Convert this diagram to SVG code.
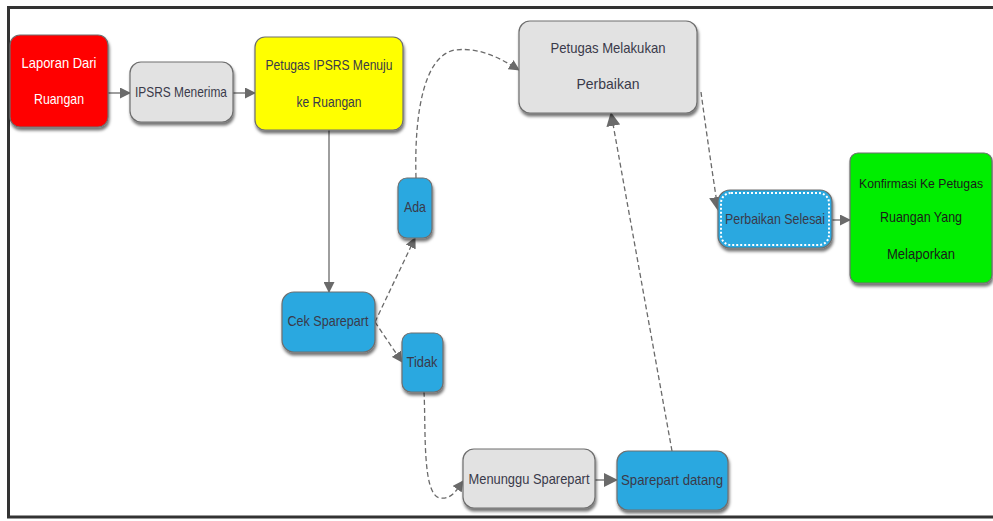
<svg xmlns="http://www.w3.org/2000/svg" width="993" height="521" viewBox="0 0 993 521">
<defs>
<filter id="sh" x="-20%" y="-20%" width="140%" height="150%">
<feDropShadow dx="1" dy="3" stdDeviation="1.5" flood-color="#000" flood-opacity="0.55"/>
</filter>
<marker id="ah" markerWidth="11" markerHeight="11" refX="10" refY="5.5" orient="auto" markerUnits="userSpaceOnUse">
<path d="M0,0 L11,5.5 L0,11 Z" fill="#6a6a6a"/>
</marker>
<marker id="ahb" markerWidth="14" markerHeight="14" refX="13" refY="7" orient="auto" markerUnits="userSpaceOnUse">
<path d="M0,0 L14,7 L0,14 Z" fill="#6a6a6a"/>
</marker>
</defs>
<style>
.n{stroke:#6e6e6e;stroke-width:1.2;filter:url(#sh)}
.gray{fill:#e2e2e2}
.blue{fill:#29a8e0}
.t{font-family:"Liberation Sans",Arial,sans-serif;font-size:14.5px;text-anchor:middle;fill:#3a3a4a}
.w{fill:#ffffff}
.k{fill:#1a1a1a}
.sm{font-size:13px}
.c{fill:none;stroke:#6a6a6a;stroke-width:1.3}
.d{stroke-dasharray:5,3}
</style>
<rect x="0" y="0" width="993" height="521" fill="#ffffff"/>
<g id="frame" fill="none" stroke="#333" stroke-width="3">
<path d="M993,7.5 L8.5,7.5 L8.5,517 L993,517"/>
</g>
<g id="connectors">
<line class="c" x1="108" y1="93" x2="130" y2="93" marker-end="url(#ah)"/>
<line class="c" x1="233" y1="93" x2="255" y2="93" marker-end="url(#ah)"/>
<line class="c" x1="329" y1="130" x2="329" y2="292" marker-end="url(#ah)"/>
<line class="c d" x1="375" y1="322" x2="415" y2="238" marker-end="url(#ah)"/>
<line class="c d" x1="375" y1="322" x2="402" y2="362" marker-end="url(#ah)"/>
<path class="c d" d="M416,178 C414,110 425,55 455,50 C480,47 500,58 519,70" marker-end="url(#ah)"/>
<path class="c d" d="M424,392 C426,430 422,495 440,498 C452,500 458,488 463,481" marker-end="url(#ah)"/>
<line class="c" x1="595" y1="480" x2="617" y2="480" marker-end="url(#ahb)"/>
<line class="c d" x1="672" y1="451" x2="611" y2="113" marker-end="url(#ahb)"/>
<path class="c d" d="M701,92 C706,130 712,170 718,210" marker-end="url(#ahb)"/>
<line class="c" x1="832" y1="220" x2="850" y2="220" marker-end="url(#ah)"/>
</g>
<g id="n-laporan">
<rect class="n" x="10" y="35" width="98" height="92" rx="10" fill="#ff0000"/>
<text class="t w" x="59" y="68" textLength="75" lengthAdjust="spacingAndGlyphs">Laporan Dari</text>
<text class="t w" x="59" y="104" textLength="50" lengthAdjust="spacingAndGlyphs">Ruangan</text>
</g>
<g id="n-ipsrs">
<rect class="n gray" x="130" y="62" width="103" height="60" rx="11"/>
<text class="t" x="181" y="97" textLength="92" lengthAdjust="spacingAndGlyphs">IPSRS Menerima</text>
</g>
<g id="n-petugas-ipsrs">
<rect class="n" x="255" y="37" width="148" height="93" rx="10" fill="#ffff00"/>
<text class="t" x="329" y="70" textLength="127" lengthAdjust="spacingAndGlyphs">Petugas IPSRS Menuju</text>
<text class="t" x="329" y="107" textLength="65" lengthAdjust="spacingAndGlyphs">ke Ruangan</text>
</g>
<g id="n-melakukan">
<rect class="n gray" x="519" y="21" width="178" height="92" rx="11"/>
<text class="t" x="608" y="53" textLength="115" lengthAdjust="spacingAndGlyphs">Petugas Melakukan</text>
<text class="t" x="608" y="89" textLength="63" lengthAdjust="spacingAndGlyphs">Perbaikan</text>
</g>
<g id="n-ada">
<rect class="n blue" x="398" y="178" width="34" height="60" rx="9"/>
<text class="t" x="415" y="212" textLength="22" lengthAdjust="spacingAndGlyphs">Ada</text>
</g>
<g id="n-cek">
<rect class="n blue" x="282" y="292" width="93" height="60" rx="12"/>
<text class="t" x="328" y="326" textLength="81" lengthAdjust="spacingAndGlyphs">Cek Sparepart</text>
</g>
<g id="n-tidak">
<rect class="n blue" x="402" y="333" width="41" height="59" rx="9"/>
<text class="t" x="422" y="367" textLength="31" lengthAdjust="spacingAndGlyphs">Tidak</text>
</g>
<g id="n-menunggu">
<rect class="n gray" x="463" y="449" width="132" height="59" rx="11"/>
<text class="t" x="529" y="484" textLength="121" lengthAdjust="spacingAndGlyphs">Menunggu Sparepart</text>
</g>
<g id="n-datang">
<rect class="n blue" x="617" y="451" width="111" height="59" rx="11"/>
<text class="t" x="672" y="485" textLength="102" lengthAdjust="spacingAndGlyphs">Sparepart datang</text>
</g>
<g id="n-selesai">
<rect class="n blue" x="718" y="190" width="114" height="58" rx="12"/>
<rect x="721" y="193" width="108" height="52" rx="10" fill="none" stroke="#ffffff" stroke-width="2" stroke-dasharray="2,2"/>
<text class="t" x="775" y="224" textLength="100" lengthAdjust="spacingAndGlyphs">Perbaikan Selesai</text>
</g>
<g id="n-konfirmasi">
<rect class="n" x="850" y="153" width="142" height="130" rx="8" fill="#00ee00"/>
<text class="t k sm" x="921" y="188" textLength="124" lengthAdjust="spacingAndGlyphs">Konfirmasi Ke Petugas</text>
<text class="t k" x="921" y="222" textLength="82" lengthAdjust="spacingAndGlyphs">Ruangan Yang</text>
<text class="t k" x="921" y="259" textLength="68" lengthAdjust="spacingAndGlyphs">Melaporkan</text>
</g>
</svg>
